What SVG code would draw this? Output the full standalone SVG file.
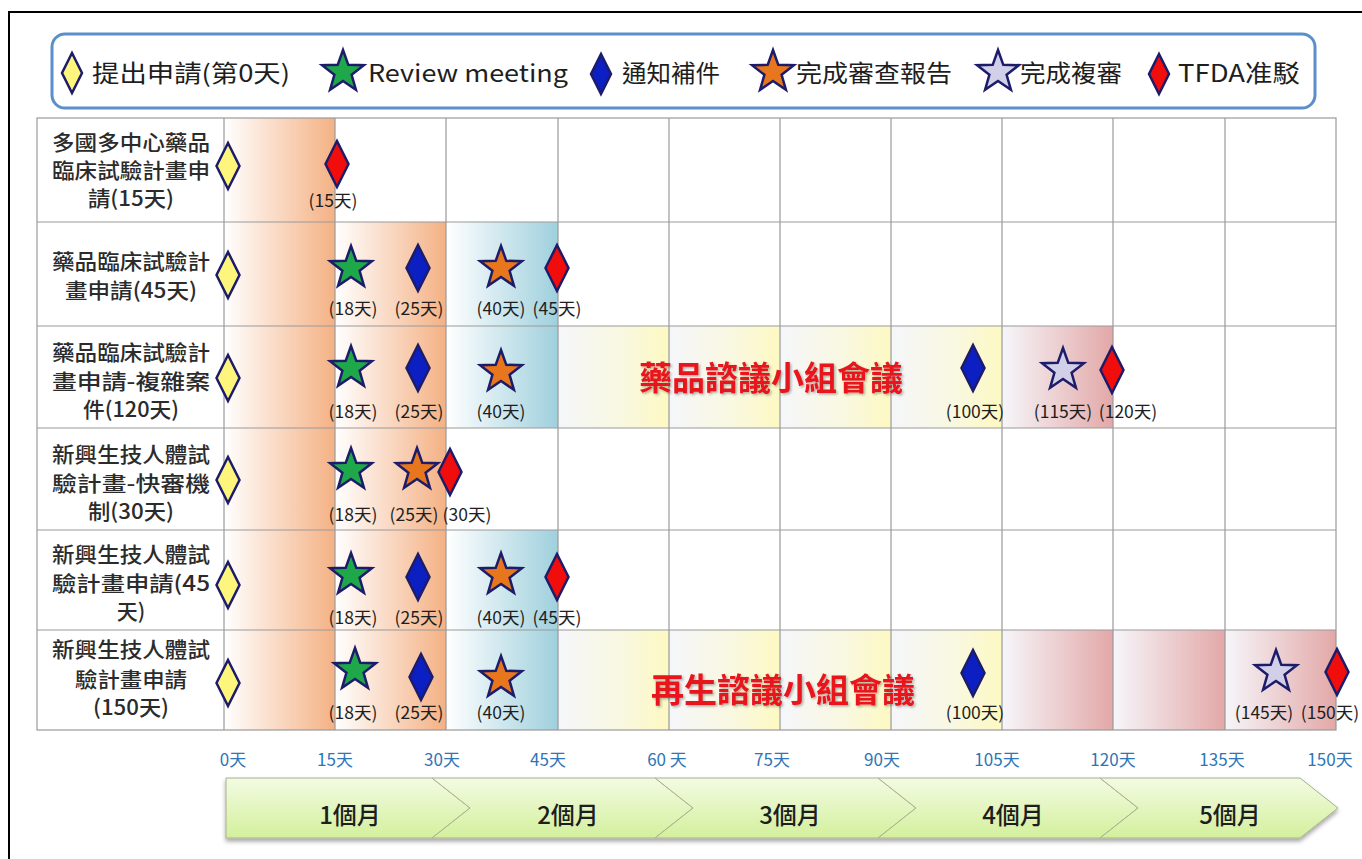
<svg xmlns="http://www.w3.org/2000/svg" xmlns:xlink="http://www.w3.org/1999/xlink" width="1362" height="859" viewBox="0 0 1362 859">
<style>
.lg{font-family:"Noto Sans CJK TC","Noto Sans CJK SC",sans-serif;font-size:24px;fill:#1e1e1e}
.rl{font-family:"Noto Sans CJK TC","Noto Sans CJK SC",sans-serif;font-size:21px;font-weight:500;fill:#2b2b2b;text-anchor:middle}
.ml{font-family:"Noto Sans CJK TC","Noto Sans CJK SC",sans-serif;font-size:17.5px;fill:#1e1e1e;text-anchor:middle}
.ax{font-family:"Noto Sans CJK TC","Noto Sans CJK SC",sans-serif;font-size:17px;fill:#2e75b6;text-anchor:middle}
.mo{font-family:"Noto Sans CJK TC","Noto Sans CJK SC",sans-serif;font-size:24px;font-weight:500;fill:#1e1e1e;text-anchor:middle}
.big{font-family:"Noto Sans CJK TC","Noto Sans CJK SC",sans-serif;font-size:33px;font-weight:bold;fill:#e8141c;text-anchor:middle}
.grid{stroke:#9a9a9a;stroke-width:1.2;fill:none}
.mk{stroke:#1c1c6a;stroke-width:2.5;stroke-linejoin:miter}
.yl{fill:#fdf57c}.rd{fill:#f20d0d}.bl{fill:#0c1fc2}
.gs{fill:#1fa84a}.os{fill:#e8761c}.ls{fill:#d2cfe8}
.chev{fill:url(#gChev);stroke:#a7b08f;stroke-width:1}
</style>
<defs>
<path id="dia" d="M0,-23 L11.5,0 L0,23 L-11.5,0 Z"/>
<path id="diaL" d="M0,-20 L10,0 L0,20 L-10,0 Z"/>
<path id="star" d="M0,-22 L5.3,-7.2 L20.92,-6.8 L8.6,2.8 L12.93,17.8 L0,9 L-12.93,17.8 L-8.6,2.8 L-20.92,-6.8 L-5.3,-7.2 Z"/>
<linearGradient id="gOr" x1="0" y1="0" x2="1" y2="0"><stop offset="0" stop-color="#ffffff"/><stop offset="1" stop-color="#f4b184"/></linearGradient>
<linearGradient id="gBl" x1="0" y1="0" x2="1" y2="0"><stop offset="0" stop-color="#ffffff"/><stop offset="1" stop-color="#9fd0dd"/></linearGradient>
<linearGradient id="gYe" x1="0" y1="0" x2="1" y2="0"><stop offset="0" stop-color="#f5f6fa"/><stop offset="0.6" stop-color="#f9f8df"/><stop offset="1" stop-color="#fdf9c2"/></linearGradient>
<linearGradient id="gPk" x1="0" y1="0" x2="1" y2="0"><stop offset="0" stop-color="#f6f6fa"/><stop offset="1" stop-color="#e3a8a8"/></linearGradient>
<linearGradient id="gChev" x1="0" y1="0" x2="0" y2="1"><stop offset="0" stop-color="#f3fbe3"/><stop offset="1" stop-color="#d3f09c"/></linearGradient>
<filter id="sh" x="-5%" y="-20%" width="110%" height="150%"><feDropShadow dx="0" dy="3" stdDeviation="2" flood-color="#000" flood-opacity="0.35"/></filter>
<filter id="tsh" x="-5%" y="-20%" width="110%" height="150%"><feDropShadow dx="1.5" dy="1.5" stdDeviation="1" flood-color="#000" flood-opacity="0.3"/></filter>
</defs>

<rect x="0" y="0" width="1362" height="859" fill="#ffffff"/>
<rect x="9" y="12" width="1400" height="900" fill="none" stroke="#000" stroke-width="2"/>

<g id="legend">
<rect x="52" y="34" width="1263" height="74" rx="13" ry="13" fill="#fff" stroke="#5b8fcb" stroke-width="3"/>
<use href="#diaL" x="72" y="73" class="mk yl"/>
<text class="lg" x="92" y="82" textLength="198" lengthAdjust="spacingAndGlyphs">提出申請(第0天)</text>
<use href="#star" x="343" y="72" class="mk gs"/>
<text class="lg" x="368" y="82" textLength="200" lengthAdjust="spacingAndGlyphs">Review meeting</text>
<use href="#diaL" x="601" y="74" class="mk bl"/>
<text class="lg" x="622" y="82" textLength="98" lengthAdjust="spacingAndGlyphs">通知補件</text>
<use href="#star" x="773" y="72" class="mk os"/>
<text class="lg" x="796" y="82" textLength="156" lengthAdjust="spacingAndGlyphs">完成審查報告</text>
<use href="#star" x="998" y="72" class="mk ls"/>
<text class="lg" x="1020" y="82" textLength="102" lengthAdjust="spacingAndGlyphs">完成複審</text>
<use href="#diaL" x="1159" y="74" class="mk rd"/>
<text class="lg" x="1178" y="82" textLength="122" lengthAdjust="spacingAndGlyphs">TFDA准駁</text>
</g>

<g id="shading">
<rect x="224" y="118" width="111" height="612" fill="url(#gOr)"/>
<rect x="335" y="222" width="111" height="508" fill="url(#gOr)"/>
<rect x="446" y="222" width="112" height="206" fill="url(#gBl)"/>
<rect x="446" y="530" width="112" height="200" fill="url(#gBl)"/>
<rect x="558" y="326" width="111" height="102" fill="url(#gYe)"/>
<rect x="669" y="326" width="111" height="102" fill="url(#gYe)"/>
<rect x="780" y="326" width="111" height="102" fill="url(#gYe)"/>
<rect x="891" y="326" width="111" height="102" fill="url(#gYe)"/>
<rect x="1002" y="326" width="111" height="102" fill="url(#gPk)"/>
<rect x="558" y="630" width="111" height="100" fill="url(#gYe)"/>
<rect x="669" y="630" width="111" height="100" fill="url(#gYe)"/>
<rect x="780" y="630" width="111" height="100" fill="url(#gYe)"/>
<rect x="891" y="630" width="111" height="100" fill="url(#gYe)"/>
<rect x="1002" y="630" width="111" height="100" fill="url(#gPk)"/>
<rect x="1113" y="630" width="112" height="100" fill="url(#gPk)"/>
<rect x="1225" y="630" width="111" height="100" fill="url(#gPk)"/>
</g>

<g id="grid" class="grid">
<rect x="37" y="118" width="1299" height="612"/>
<path d="M224,118V730 M335,118V730 M446,118V730 M558,118V730 M669,118V730 M780,118V730 M891,118V730 M1002,118V730 M1113,118V730 M1225,118V730"/>
<path d="M37,222H1336 M37,326H1336 M37,428H1336 M37,530H1336 M37,630H1336"/>
</g>

<g id="row1">
<text class="rl" x="131" y="150" textLength="158" lengthAdjust="spacingAndGlyphs">多國多中心藥品</text>
<text class="rl" x="131" y="178" textLength="158" lengthAdjust="spacingAndGlyphs">臨床試驗計畫申</text>
<text class="rl" x="131" y="206" textLength="86" lengthAdjust="spacingAndGlyphs">請(15天)</text>
<use href="#dia" x="228" y="166" class="mk yl"/>
<use href="#dia" x="337" y="164" class="mk rd"/>
<text class="ml" x="333" y="207">(15天)</text>
</g>

<g id="row2">
<text class="rl" x="131" y="269" textLength="158" lengthAdjust="spacingAndGlyphs">藥品臨床試驗計</text>
<text class="rl" x="131" y="298" textLength="132" lengthAdjust="spacingAndGlyphs">畫申請(45天)</text>
<use href="#dia" x="228" y="275" class="mk yl"/>
<use href="#star" x="351" y="268" class="mk gs"/>
<use href="#dia" x="418" y="268" class="mk bl"/>
<use href="#star" x="501" y="268" class="mk os"/>
<use href="#dia" x="557" y="268" class="mk rd"/>
<text class="ml" x="353" y="315">(18天)</text>
<text class="ml" x="419" y="315">(25天)</text>
<text class="ml" x="501" y="315">(40天)</text>
<text class="ml" x="557" y="315">(45天)</text>
</g>

<g id="row3">
<text class="rl" x="131" y="360" textLength="158" lengthAdjust="spacingAndGlyphs">藥品臨床試驗計</text>
<text class="rl" x="131" y="389" textLength="158" lengthAdjust="spacingAndGlyphs">畫申請-複雜案</text>
<text class="rl" x="131" y="417" textLength="96" lengthAdjust="spacingAndGlyphs">件(120天)</text>
<use href="#dia" x="228" y="378" class="mk yl"/>
<use href="#star" x="351" y="368" class="mk gs"/>
<use href="#dia" x="418" y="368" class="mk bl"/>
<use href="#star" x="501" y="372" class="mk os"/>
<text class="big" x="771" y="390" filter="url(#tsh)">藥品諮議小組會議</text>
<use href="#dia" x="973" y="368" class="mk bl"/>
<use href="#star" x="1063" y="370" class="mk ls"/>
<use href="#dia" x="1112" y="370" class="mk rd"/>
<text class="ml" x="353" y="418">(18天)</text>
<text class="ml" x="419" y="418">(25天)</text>
<text class="ml" x="501" y="418">(40天)</text>
<text class="ml" x="975" y="418">(100天)</text>
<text class="ml" x="1063" y="418">(115天)</text>
<text class="ml" x="1128" y="418">(120天)</text>
</g>

<g id="row4">
<text class="rl" x="131" y="462" textLength="158" lengthAdjust="spacingAndGlyphs">新興生技人體試</text>
<text class="rl" x="131" y="491" textLength="158" lengthAdjust="spacingAndGlyphs">驗計畫-快審機</text>
<text class="rl" x="131" y="519" textLength="86" lengthAdjust="spacingAndGlyphs">制(30天)</text>
<use href="#dia" x="228" y="480" class="mk yl"/>
<use href="#star" x="351" y="470" class="mk gs"/>
<use href="#star" x="417" y="470" class="mk os"/>
<use href="#dia" x="450" y="472" class="mk rd"/>
<text class="ml" x="353" y="521">(18天)</text>
<text class="ml" x="414" y="521">(25天)</text>
<text class="ml" x="467" y="521">(30天)</text>
</g>

<g id="row5">
<text class="rl" x="131" y="562" textLength="158" lengthAdjust="spacingAndGlyphs">新興生技人體試</text>
<text class="rl" x="131" y="591" textLength="158" lengthAdjust="spacingAndGlyphs">驗計畫申請(45</text>
<text class="rl" x="131" y="619">天)</text>
<use href="#dia" x="228" y="585" class="mk yl"/>
<use href="#star" x="351" y="575" class="mk gs"/>
<use href="#dia" x="418" y="577" class="mk bl"/>
<use href="#star" x="501" y="575" class="mk os"/>
<use href="#dia" x="557" y="577" class="mk rd"/>
<text class="ml" x="353" y="624">(18天)</text>
<text class="ml" x="419" y="624">(25天)</text>
<text class="ml" x="501" y="624">(40天)</text>
<text class="ml" x="557" y="624">(45天)</text>
</g>

<g id="row6">
<text class="rl" x="131" y="657" textLength="158" lengthAdjust="spacingAndGlyphs">新興生技人體試</text>
<text class="rl" x="131" y="687" textLength="112" lengthAdjust="spacingAndGlyphs">驗計畫申請</text>
<text class="rl" x="131" y="715" textLength="76" lengthAdjust="spacingAndGlyphs">(150天)</text>
<use href="#dia" x="228" y="683" class="mk yl"/>
<use href="#star" x="355" y="670" class="mk gs"/>
<use href="#dia" x="421" y="677" class="mk bl"/>
<use href="#star" x="501" y="678" class="mk os"/>
<text class="big" x="783" y="702" filter="url(#tsh)">再生諮議小組會議</text>
<use href="#dia" x="973" y="673" class="mk bl"/>
<use href="#star" x="1276" y="672" class="mk ls"/>
<use href="#dia" x="1337" y="672" class="mk rd"/>
<text class="ml" x="353" y="719">(18天)</text>
<text class="ml" x="419" y="719">(25天)</text>
<text class="ml" x="501" y="719">(40天)</text>
<text class="ml" x="975" y="719">(100天)</text>
<text class="ml" x="1264" y="719">(145天)</text>
<text class="ml" x="1330" y="719">(150天)</text>
</g>

<g id="axis">
<text class="ax" x="233" y="766">0天</text>
<text class="ax" x="335" y="766">15天</text>
<text class="ax" x="442" y="766">30天</text>
<text class="ax" x="548" y="766">45天</text>
<text class="ax" x="667" y="766">60 天</text>
<text class="ax" x="772" y="766">75天</text>
<text class="ax" x="882" y="766">90天</text>
<text class="ax" x="997" y="766">105天</text>
<text class="ax" x="1113" y="766">120天</text>
<text class="ax" x="1222" y="766">135天</text>
<text class="ax" x="1330" y="766">150天</text>
</g>

<g id="months" filter="url(#sh)">
<path class="chev" d="M226,778 L432,778 L470,808 L432,838 L226,838 Z"/>
<path class="chev" d="M432,778 L655,778 L693,808 L655,838 L432,838 L470,808 Z"/>
<path class="chev" d="M655,778 L878,778 L916,808 L878,838 L655,838 L693,808 Z"/>
<path class="chev" d="M878,778 L1100,778 L1138,808 L1100,838 L878,838 L916,808 Z"/>
<path class="chev" d="M1100,778 L1300,778 L1338,808 L1300,838 L1100,838 L1138,808 Z"/>
</g>
<g id="month-labels">
<text class="mo" x="350" y="824">1個月</text>
<text class="mo" x="568" y="824">2個月</text>
<text class="mo" x="790" y="824">3個月</text>
<text class="mo" x="1013" y="824">4個月</text>
<text class="mo" x="1230" y="824">5個月</text>
</g>
</svg>
